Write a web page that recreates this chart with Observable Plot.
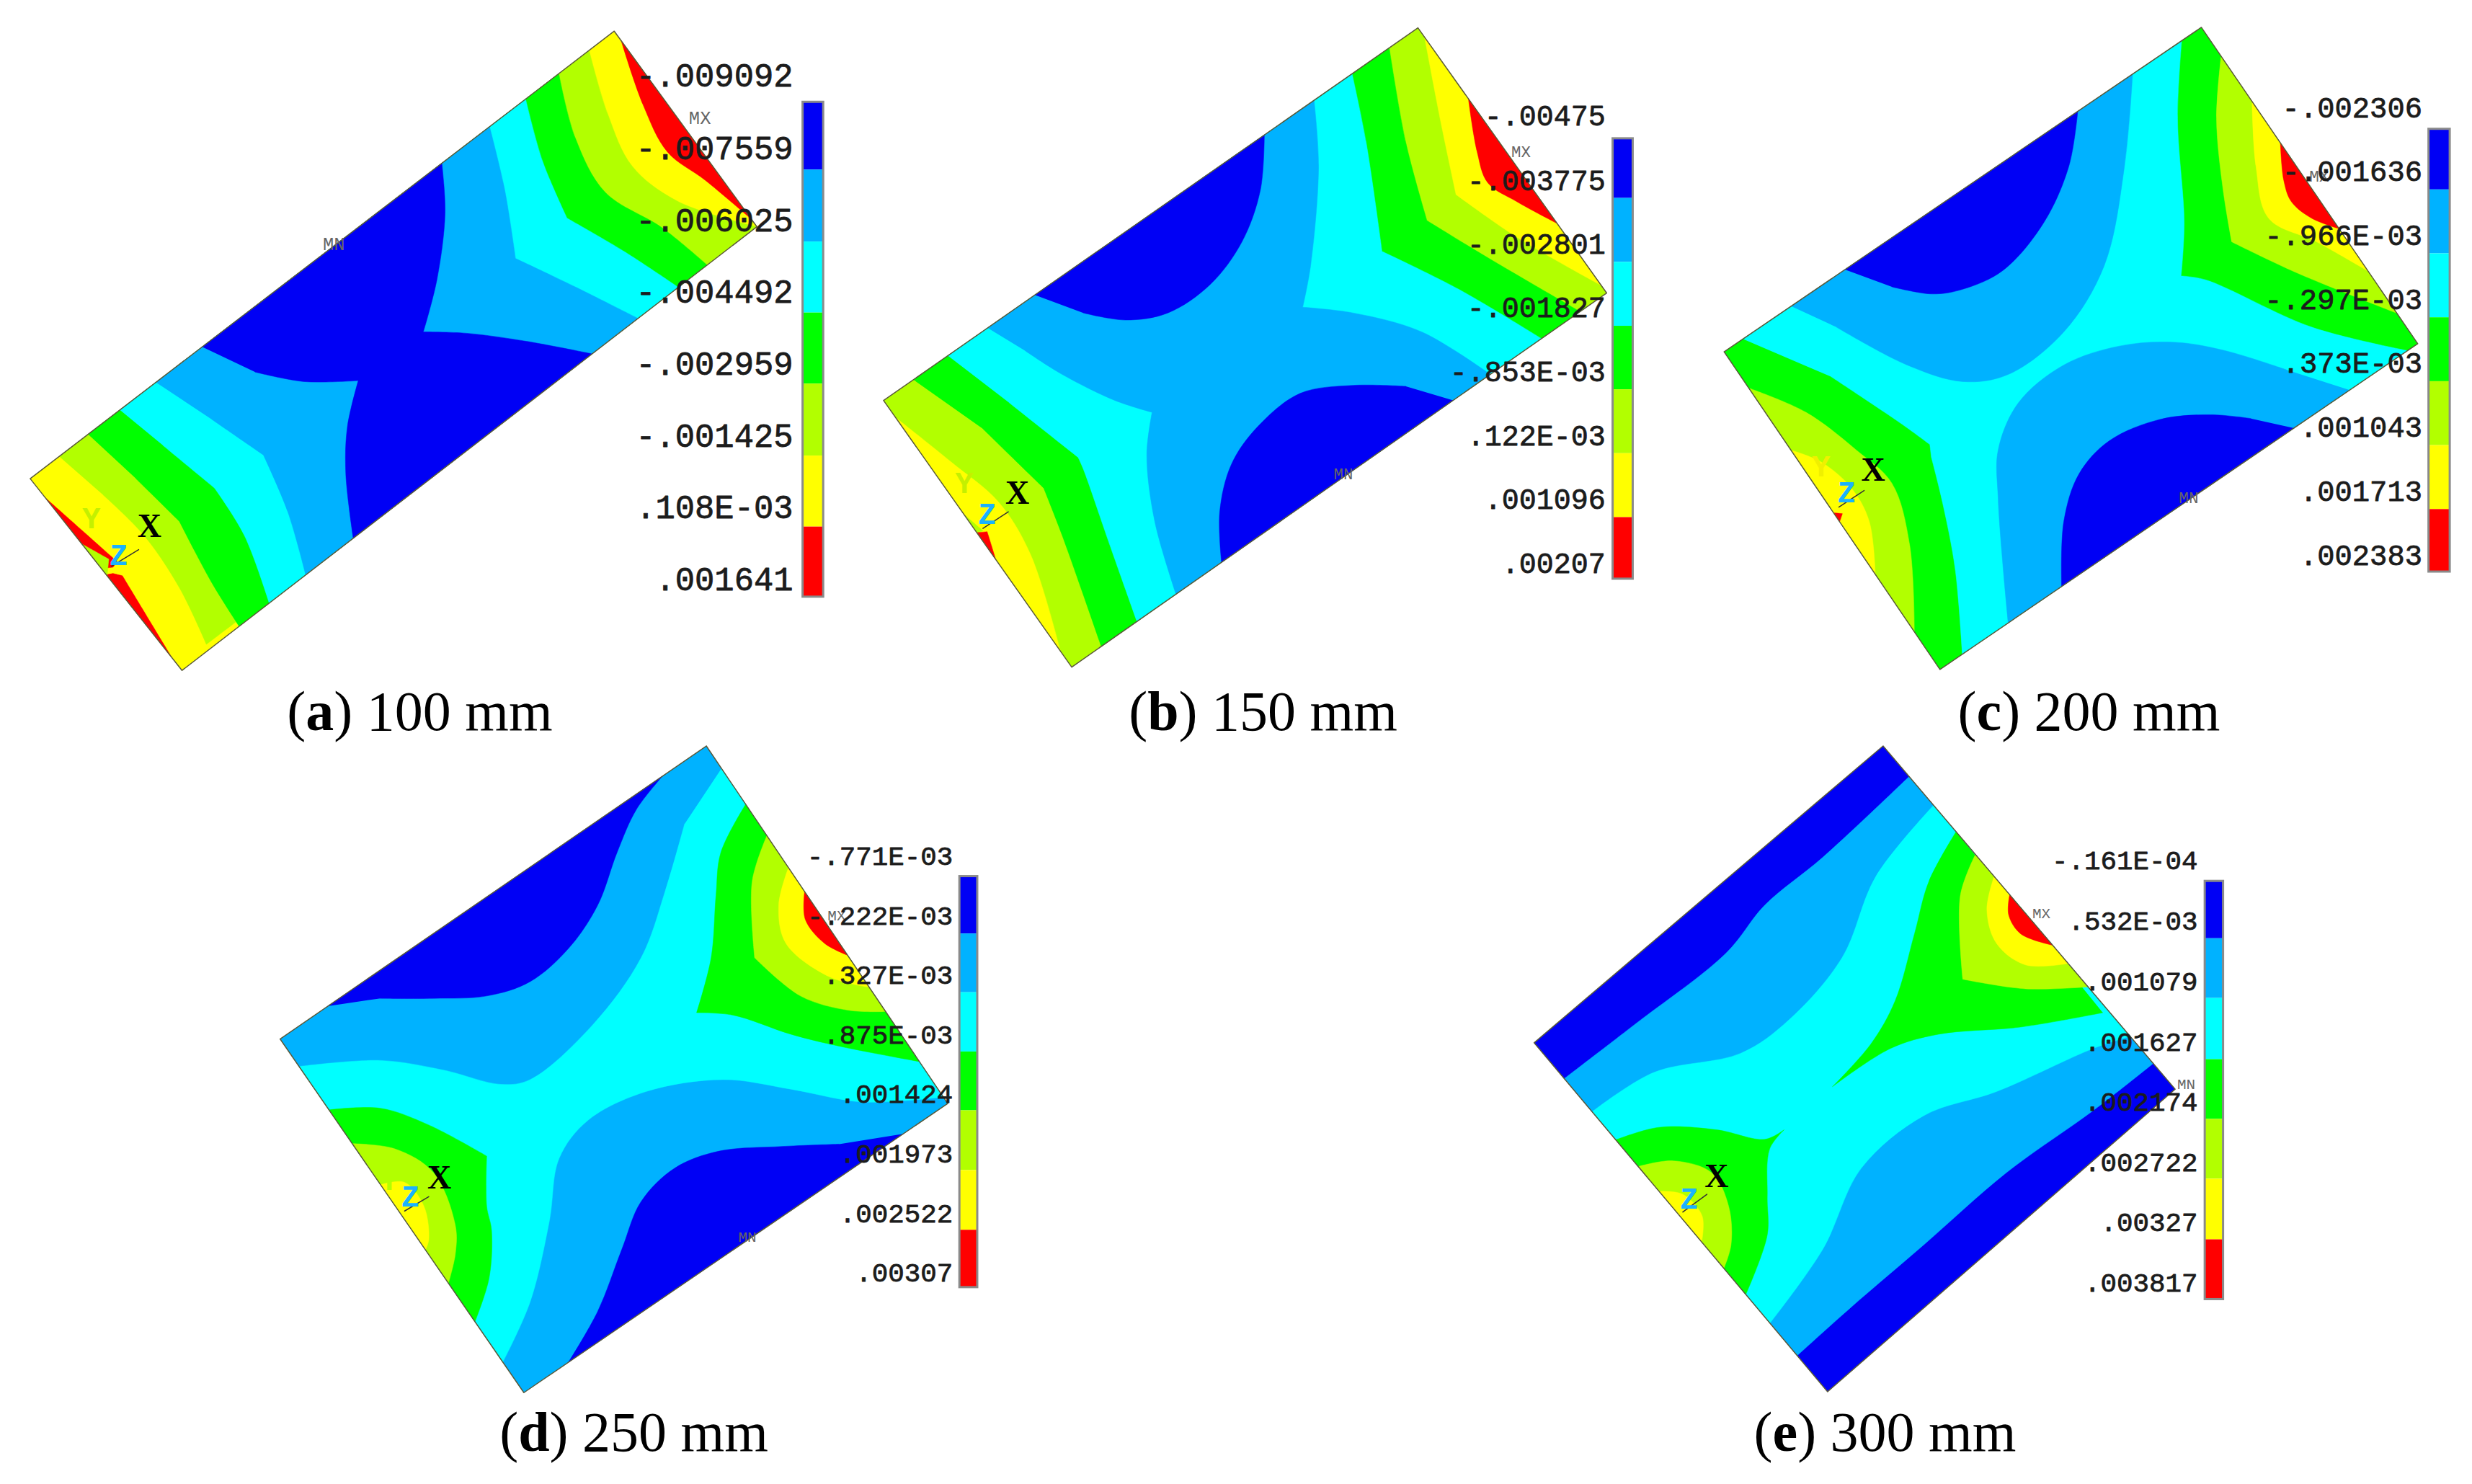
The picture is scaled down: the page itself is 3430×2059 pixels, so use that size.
<!DOCTYPE html>
<html><head><meta charset="utf-8">
<script src="https://cdn.jsdelivr.net/npm/d3@7"></script>
<script src="https://cdn.jsdelivr.net/npm/@observablehq/plot@0.6"></script>
<style>html,body{margin:0;padding:0;background:#fff}svg{display:block}</style>
</head><body><div id="chart"></div>
<script>
// Band colours, top to bottom of each legend
const bandColors = ["#0000f5","#00b2ff","#00ffff","#00ff00","#b2ff00","#ffff00","#ff0000"];
const [BL,LB,CY,GR,YG,YE,RE] = bandColors;

// Points; third item 1 = sharp corner
const plateA = [[1132,65],[1395,478],[335,1415],[55,1010]];
const regionsA = [
 [YE,[[1132,65,1],[1395,478,1],[335,1415,1],[55,1010,1]]],
 [RE,[[1145,85,1],[1185,220],[1230,320],[1300,380],[1385,462,1]]],
 [RE,[[83,1050,1],[215,1185,1],[208,1197,1],[186,1200,1]]],
 [RE,[[207,1210,1],[225,1215,1],[315,1388,1],[195,1212,1]]],
 [YG,[[150,1148,1],[200,1180,1],[200,1213,1]]],
 [YG,[[110,965,1],[1085,105,1],[1120,240],[1165,350],[1250,425],[1395,478,1],[380,1360,1],[330,1240],[265,1130],[190,1045]]],
 [GR,[[165,920,1],[1030,155,1],[1060,290],[1115,405],[1220,480],[1300,555,1],[437,1318,1],[390,1230],[330,1100,1],[250,1010]]],
 [CY,[[225,870,1],[970,210,1],[1000,340],[1045,460,1],[1150,530],[1245,600,1],[495,1272,1],[450,1130],[395,1030,1],[300,940]]],
 [LB,[[290,810,1],[905,270,1],[930,400],[950,545,1],[1060,605],[1170,665,1],[560,1210,1],[530,1080],[485,960,1],[390,885]]],
 [BL,[[375,735,1],[815,345,1],[820,450],[805,590],[780,700,1],[860,703],[970,720],[1090,745,1],[650,1135,1],[637,1000],[640,900],[660,803,1],[560,805],[470,785]]],
];
const labelsA = ["-.009092","-.007559","-.006025","-.004492","-.002959","-.001425",".108E-03",".001641"];
const labelYA = [160,313,465,617,768,920,1072,1223];
const stopsA = [215,358,510,660,810,962,1112,1260];

const plateB = [[1073,58],[1430,618],[418,1408],[62,845]];
const regionsB = [
 [YG,[[1073,58,1],[1430,618,1],[418,1408,1],[62,845,1]]],
 [YE,[[1085,78,1],[1115,250],[1145,410,1],[1260,500],[1420,602,1]]],
 [RE,[[1168,208,1],[1185,320],[1205,385],[1260,425],[1338,470,1]]],
 [YE,[[85,880,1],[190,975],[280,1060],[340,1170],[395,1375,1]]],
 [YG,[[215,1085,1],[250,1120,1],[240,1125,1]]],
 [RE,[[240,1123,1],[258,1122,1],[275,1180,1]]],
 [GR,[[120,803,1],[1020,102,1],[1050,300],[1090,465,1],[1200,540],[1378,655,1],[472,1362,1],[400,1130],[365,1030,1],[250,905]]],
 [CY,[[185,752,1],[950,157,1],[975,300],[1005,530,1],[1150,610],[1305,712,1],[540,1310,1],[490,1150],[440,990],[430,965,1],[300,850]]],
 [LB,[[260,693,1],[878,213,1],[885,350],[870,560],[855,648,1],[950,660],[1080,700],[1210,790,1],[612,1250,1],[575,1100],[560,960],[570,870,1],[500,845],[400,790],[330,740]]],
 [BL,[[348,622,1],[783,285,1],[775,400],[740,510],[680,600],[600,660],[520,675],[440,660]]],
 [BL,[[1140,845,1],[700,1185,1],[698,1080],[720,980],[770,900],[850,830],[950,813],[1050,815]]],
];
const labelsB = ["-.00475","-.003775","-.002801","-.001827","-.853E-03",".122E-03",".001096",".00207"];
const labelYB = [245,381,516,650,785,920,1055,1190];
const stopsB = [292,418,553,688,822,957,1092,1222];

const plateC = [[1032,57],[1460,725],[515,1413],[88,742]];
const regionsC = [
 [GR,[[1032,57,1],[1460,725,1],[515,1413,1],[88,742,1]]],
 [YG,[[1068,120,1],[1062,250],[1075,400],[1092,510,1],[1220,575],[1420,660,1]]],
 [YE,[[1130,215,1],[1140,350],[1165,460],[1260,510],[1365,570,1]]],
 [RE,[[1190,300,1],[1195,380],[1210,425],[1250,460],[1308,480,1]]],
 [YG,[[135,820,1],[250,870],[350,950],[420,1020],[455,1150],[470,1330,1]]],
 [YE,[[220,950,1],[280,975],[340,1030],[375,1100],[390,1210,1]]],
 [RE,[[305,1082,1],[322,1084,1],[318,1100,1]]],
 [CY,[[125,715,1],[993,85,1],[985,250],[998,470],[992,582,1],[1040,590],[1250,690],[1440,740,1],[555,1375,1],[545,1200],[520,1060],[498,965,1],[495,938,1],[440,895],[300,795]]],
 [LB,[[222,648,1],[897,157,1],[880,350],[840,560],[760,700],[650,790],[560,805],[450,770],[310,690]]],
 [LB,[[1325,822,1],[650,1315,1],[640,1200],[630,1050],[630,950],[670,850],[760,770],[870,730],[980,722],[1080,740],[1200,780]]],
 [BL,[[328,570,1],[788,235,1],[770,350],[720,470],[640,570],[560,610],[500,620],[420,605]]],
 [BL,[[1215,903,1],[755,1237,1],[760,1100],[790,1000],[850,930],[950,885],[1050,875],[1130,883]]],
];
const labelsC = ["-.002306","-.001636","-.966E-03","-.297E-03",".373E-03",".001043",".001713",".002383"];
const labelYC = [227,362,497,632,767,902,1037,1172];
const stopsC = [272,400,535,670,805,940,1075,1207];

const plateD = [[925,37],[1425,785],[547,1390],[42,650]];
const regionsD = [
 [LB,[[925,37,1],[1425,785,1],[547,1390,1],[42,650,1]]],
 [BL,[[140,580,1],[835,100,1],[780,170],[740,260],[700,370],[640,460],[560,530],[470,560],[360,565],[250,565]]],
 [BL,[[1330,845,1],[635,1320,1],[700,1220],[750,1090],[790,990],[860,920],[950,885],[1080,875],[1200,870]]],
 [CY,[[955,85,1],[1418,770,1],[1250,782],[1100,755],[960,735],[800,760],[680,820],[620,900],[600,1030],[560,1200],[505,1325,1],[85,705,1],[250,695],[380,715],[500,745],[560,735],[690,620],[790,480],[840,340],[880,200]]],
 [GR,[[1005,160,1],[955,260],[945,350],[935,480],[905,595,1],[980,600],[1100,640],[1200,665],[1370,695,1]]],
 [YG,[[1050,225,1],[1020,320],[1025,480,1],[1120,560],[1220,590],[1300,590,1]]],
 [YE,[[1090,295,1],[1075,370],[1090,450],[1180,520],[1265,540,1]]],
 [RE,[[1128,342,1],[1130,400],[1170,450],[1222,472,1]]],
 [GR,[[145,797,1],[250,795],[350,830],[470,895,1],[470,1000],[480,1050],[475,1150],[448,1240,1]]],
 [YG,[[190,870,1],[280,880],[360,930],[405,1040],[405,1100],[392,1160,1]]],
 [YE,[[250,955,1],[300,950],[340,1000],[350,1070],[345,1090,1]]],
];
const labelsD = ["-.771E-03","-.222E-03",".327E-03",".875E-03",".001424",".001973",".002522",".00307"];
const labelYD = [268,393,517,641,766,890,1015,1139];
const stopsD = [310,430,553,677,800,925,1050,1170];

const plateE = [[765,37],[1370,755],[650,1388],[42,658]];
const regionsE = [
 [BL,[[765,37,1],[1370,755,1],[650,1388,1],[42,658,1]]],
 [LB,[[108,730,1],[250,620],[440,470],[520,370],[640,270],[820,100,1],[1320,705,1],[1200,800],[1020,930],[850,1080],[700,1210],[590,1310,1]]],
 [CY,[[165,800,1],[290,720],[470,680],[570,610],[680,480],[750,310],[865,165,1],[1270,650,1],[1200,670],[1000,760],[850,810],[720,920],[640,1090],[530,1245,1]]],
 [GR,[[912,220,1],[860,320],[830,430],[790,570],[740,660],[660,750,1],[780,670],[880,640],[1050,625],[1220,595,1]]],
 [YG,[[955,265,1],[925,350],[930,525,1],[1060,545],[1185,545,1]]],
 [YE,[[995,310,1],[980,380],[1000,450],[1060,495],[1145,495,1]]],
 [RE,[[1025,350,1],[1025,390],[1050,430],[1115,455,1]]],
 [GR,[[215,858,1],[300,835],[420,840],[520,860],[560,840,1],[530,880],[525,980],[525,1060],[480,1185,1]]],
 [YG,[[260,915,1],[330,905],[410,930],[445,1000],[450,1080],[435,1130,1]]],
 [YE,[[305,965,1],[350,975],[390,1020],[395,1070,1]]],
];
const labelsE = ["-.161E-04",".532E-03",".001079",".001627",".002174",".002722",".00327",".003817"];
const labelYE = [277,404,530,656,782,908,1034,1161];
const stopsE = [320,440,565,693,818,943,1070,1195];

const captionLetters = ["a","b","c","d","e"];
const captionRest = ["100 mm","150 mm","200 mm","250 mm","300 mm"];
const captionX = [582,1752,2898,879,2615];
const captionY = [988,988,988,1988,1988];
const axisYColors = ["#c4f000","#c4f000","#f0f000","#b2ff00","#b2ff00"];

// Crop frames the points above were read in
const panels = [
 {o:[0,0],k:[1.329,1.522],plate:plateA,regions:regionsA,labels:labelsA,ly:labelYA,stops:stopsA,lx:1462,bar:[1480,1518],fs:45.5,
  mx:[1290,248],mn:[615,515],X:[275,1110],Y:[168,1095],Z:[218,1172],t:[[205,1195],[255,1160]]},
 {o:[1180,0],k:[1.3635,1.522],plate:plateB,regions:regionsB,labels:labelsB,ly:labelYB,stops:stopsB,lx:1428,bar:[1442,1480],fs:40,
  mx:[1268,320],mn:[932,1000],X:[315,1040],Y:[215,1020],Z:[258,1085],t:[[250,1115],[298,1080]]},
 {o:[2330,0],k:[1.4255,1.522],plate:plateC,regions:regionsC,labels:labelsC,ly:labelYC,stops:stopsC,lx:1469,bar:[1482,1524],fs:40.5,
  mx:[1265,372],mn:[1007,1050],X:[383,992],Y:[280,985],Z:[330,1040],t:[[315,1070],[365,1035]]},
 {o:[360,1010],k:[1.493,1.508],plate:plateD,regions:regionsD,labels:labelsD,ly:labelYD,stops:stopsD,lx:1436,bar:[1450,1487],fs:37.5,
  mx:[1195,392],mn:[1010,1065],X:[372,940],Y:[268,945],Z:[312,980],t:[[300,1010],[350,980]]},
 {o:[2100,1010],k:[1.493,1.508],plate:plateE,regions:regionsE,labels:labelsE,ly:labelYE,stops:stopsE,lx:1417,bar:[1432,1470],fs:37.5,
  mx:[1093,387],mn:[1393,745],X:[420,937],Y:[320,945],Z:[363,985],t:[[350,1012],[400,975]]},
];

// Read-off points that fall just beside a plate edge belong on that edge
function snap(x,y,plate){
  let best=[x,y],bd=10;
  plate.forEach((a,i)=>{
    const b=plate[(i+1)%4],dx=b[0]-a[0],dy=b[1]-a[1];
    const t=Math.max(0,Math.min(1,((x-a[0])*dx+(y-a[1])*dy)/(dx*dx+dy*dy)));
    const qx=a[0]+t*dx,qy=a[1]+t*dy,d=Math.hypot(x-qx,y-qy);
    if(d<bd){bd=d;best=[qx,qy];}
  });
  return best;
}

const fills=[], outlines=[], cells=[], frames=[], ticks=[], small=[], triad=[], axes=[];
panels.forEach((p,i)=>{
  const px=x=>p.o[0]+x/p.k[0], py=y=>p.o[1]+y/p.k[1];
  p.regions.forEach(([color,pts],j)=>pts.forEach(([x0,y0,s])=>{
    const [x,y]=s?snap(x0,y0,p.plate):[x0,y0];
    const rec={id:`${i}-${j}`,color,x:px(x),y:py(y)};
    fills.push(rec); if(s) fills.push(rec);
  }));
  [...p.plate,p.plate[0]].forEach(([x,y])=>outlines.push({id:i,x:px(x),y:py(y)}));
  bandColors.forEach((color,j)=>cells.push({color,x1:px(p.bar[0]),x2:px(p.bar[1]),y1:py(p.stops[j]),y2:py(p.stops[j+1])}));
  frames.push({x1:px(p.bar[0]),x2:px(p.bar[1]),y1:py(p.stops[0]),y2:py(p.stops[7])});
  p.labels.forEach((text,j)=>ticks.push({text,x:px(p.lx),y:py(p.ly[j]),fs:p.fs}));
  small.push({text:"MX",x:px(p.mx[0]),y:py(p.mx[1]),fs:p.fs*0.56},{text:"MN",x:px(p.mn[0]),y:py(p.mn[1]),fs:p.fs*0.56});
  triad.push({text:"Y",x:px(p.Y[0]),y:py(p.Y[1]),color:axisYColors[i],fs:42},
             {text:"Z",x:px(p.Z[0]),y:py(p.Z[1]),color:"#1ab2ff",fs:42},
             {text:"X",x:px(p.X[0]),y:py(p.X[1]),color:"#000",fs:46});
  p.t.forEach(([x,y])=>axes.push({id:i,x:px(x),y:py(y)}));
});
const captions = captionLetters.map((l,i)=>({text:`(${l}) ${captionRest[i]}`,l,r:captionRest[i],x:captionX[i],y:captionY[i]}));

const chart = Plot.plot({
  width:3430,height:2059,margin:0,
  x:{domain:[0,3430],axis:null},
  y:{domain:[2059,0],axis:null},
  color:{type:"identity"},
  style:{background:"#fff"},
  marks:[
    Plot.line(fills,{x:"x",y:"y",z:"id",fill:"color",stroke:"color",strokeWidth:0.5,curve:d3.curveCatmullRom.alpha(0.5)}),
    Plot.line(outlines,{x:"x",y:"y",z:"id",stroke:"#5a5a3a",strokeWidth:1.5}),
    Plot.rect(cells,{x1:"x1",x2:"x2",y1:"y1",y2:"y2",fill:"color"}),
    Plot.rect(frames,{x1:"x1",x2:"x2",y1:"y1",y2:"y2",stroke:"#8a8a8a",strokeWidth:3,fill:"none"}),
    Plot.line(axes,{x:"x",y:"y",z:"id",stroke:"#333",strokeWidth:1.5}),
    Plot.text(small,{x:"x",y:"y",text:"text",fontFamily:"Liberation Mono",fontSize:"fs",fill:"#666"}),
    Plot.text(triad.filter(d=>d.text!="X"),{x:"x",y:"y",text:"text",fill:"color",fontFamily:"Liberation Mono",fontWeight:"bold",fontSize:"fs"}),
    Plot.text(triad.filter(d=>d.text=="X"),{x:"x",y:"y",text:"text",fill:"color",fontFamily:"Liberation Serif",fontWeight:"bold",fontSize:"fs"}),
    Plot.text(ticks,{x:"x",y:"y",text:"text",textAnchor:"end",fontFamily:"Liberation Mono",fontSize:"fs",fill:"#1c1c1c",stroke:"#1c1c1c",strokeWidth:0.8}),
    Plot.text(captions,{x:"x",y:"y",text:"text",fontFamily:"Liberation Serif",fontSize:78,fill:"#000",className:"caption"}),
  ]
});
document.getElementById("chart").append(chart);
// Bold letter inside each caption, as in the reference
d3.select(chart).selectAll("g.caption text").each(function(d,i){
  const c=captions[i], t=d3.select(this);
  t.text(null);
  t.append("tspan").text("(");
  t.append("tspan").attr("font-weight","bold").text(c.l);
  t.append("tspan").text(") "+c.r);
});
</script></body></html>
